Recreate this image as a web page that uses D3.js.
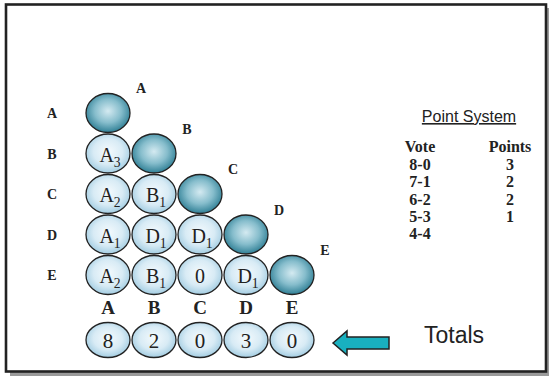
<!DOCTYPE html>
<html><head><meta charset="utf-8">
<script src="https://cdn.jsdelivr.net/npm/d3@7"></script>
<style>html,body{margin:0;padding:0;background:#fff;}svg{display:block;}</style>
</head><body>
<script>
const candidates = ["A","B","C","D","E"];
// lower-triangle pairwise results: row candidate vs column candidate (winner + points)
const rowB = ["A3"];
const rowC = ["A2","B1"];
const rowD = ["A1","D1","D1"];
const rowE = ["A2","B1","0","D1"];
const totals = [8,2,0,3,0];
const votes = ["8-0","7-1","6-2","5-3","4-4"];
const points = ["3","2","2","1",""];

const W = 549, H = 376;
const svg = d3.select("body").append("svg").attr("width", W).attr("height", H);
const defs = svg.append("defs");
const gl = defs.append("radialGradient").attr("id","light").attr("cx","50%").attr("cy","45%").attr("r","55%");
gl.append("stop").attr("offset","0%").attr("stop-color","#f4fafd");
gl.append("stop").attr("offset","60%").attr("stop-color","#d8ebf5");
gl.append("stop").attr("offset","100%").attr("stop-color","#a3cde2");
const gd = defs.append("radialGradient").attr("id","dark").attr("cx","50%").attr("cy","45%").attr("r","55%");
gd.append("stop").attr("offset","0%").attr("stop-color","#d4eaf1");
gd.append("stop").attr("offset","55%").attr("stop-color","#86bdcc");
gd.append("stop").attr("offset","100%").attr("stop-color","#2f7f95");

// frame with shadow
svg.append("rect").attr("x",10).attr("y",8).attr("width",539).attr("height",368).attr("fill","#9a9a9a");
svg.append("rect").attr("x",6).attr("y",4.5).attr("width",540).attr("height",367).attr("fill","#fff")
  .attr("stroke","#222").attr("stroke-width",2.6);

const x = d3.scalePoint().domain(candidates).range([108, 292]);
const y = d3.scalePoint().domain(candidates).range([113, 275]);
const rx = 22, ry = 19.5;

const rows = [[], rowB, rowC, rowD, rowE];
const cells = [];
rows.forEach((r, i) => r.forEach((v, j) => cells.push({row: candidates[i], col: candidates[j], v})));

const serif = "Liberation Serif, Times New Roman, serif";
const sans = "Liberation Sans, Arial, sans-serif";

function addLabel(g, v, size) {
  const t = g.append("text").attr("text-anchor","middle").attr("font-family",serif)
    .attr("font-size",size).attr("fill","#222");
  const main = v.replace(/\d+$/, "") || v;
  const sub = /^[A-Z]\d+$/.test(v) ? v.slice(1) : "";
  t.append("tspan").text(main);
  if (sub) t.append("tspan").attr("font-size", size*0.68).attr("dy", 5).text(sub);
  return t;
}

// light cells
const cg = svg.append("g");
cells.forEach(c => {
  const g = cg.append("g").attr("transform",`translate(${x(c.col)},${y(c.row)})`);
  g.append("ellipse").attr("rx",rx).attr("ry",ry).attr("fill","url(#light)").attr("stroke","#222").attr("stroke-width",1.3);
  addLabel(g, c.v, 20).attr("x", c.v.length > 1 ? 2 : 0).attr("y", 8);
});
// diagonal dark circles + labels
candidates.forEach(c => {
  svg.append("ellipse").attr("cx",x(c)).attr("cy",y(c)).attr("rx",rx).attr("ry",ry)
    .attr("fill","url(#dark)").attr("stroke","#222").attr("stroke-width",1.3);
  svg.append("text").attr("x",x(c)+33).attr("y",y(c)-20).attr("text-anchor","middle")
    .attr("font-family",serif).attr("font-weight","bold").attr("font-size",14).attr("fill","#222").text(c);
  svg.append("text").attr("x",52).attr("y",y(c)+5).attr("text-anchor","middle")
    .attr("font-family",serif).attr("font-weight","bold").attr("font-size",14).attr("fill","#222").text(c);
  svg.append("text").attr("x",x(c)).attr("y",314).attr("text-anchor","middle")
    .attr("font-family",serif).attr("font-weight","bold").attr("font-size",19).attr("fill","#222").text(c);
});
// totals
totals.forEach((t, i) => {
  const g = svg.append("g").attr("transform",`translate(${x(candidates[i])},340)`);
  g.append("ellipse").attr("rx",rx).attr("ry",17.5).attr("fill","url(#light)").attr("stroke","#222").attr("stroke-width",1.3);
  g.append("text").attr("text-anchor","middle").attr("y",7.5).attr("font-family",serif).attr("font-size",21).attr("fill","#222").text(t);
});
// arrow
svg.append("path").attr("d","M333,343 L347,331 L347,337 L389,337 L389,349 L347,349 L347,355 Z")
  .attr("fill","#19b0bf").attr("stroke","#222").attr("stroke-width",1.5).attr("stroke-linejoin","miter");
svg.append("text").attr("x",454).attr("y",343).attr("text-anchor","middle").attr("font-family",sans)
  .attr("font-size",23).attr("fill","#222").text("Totals");

// point system
svg.append("text").attr("x",469).attr("y",122).attr("text-anchor","middle").attr("font-family",sans)
  .attr("font-size",16).attr("fill","#222").attr("text-decoration","underline").text("Point System");
const vx = 420, px = 510;
const tfs = 16;
svg.append("text").attr("x",vx).attr("y",152).attr("text-anchor","middle").attr("font-family",serif)
  .attr("font-weight","bold").attr("font-size",tfs).attr("fill","#222").text("Vote");
svg.append("text").attr("x",px).attr("y",152).attr("text-anchor","middle").attr("font-family",serif)
  .attr("font-weight","bold").attr("font-size",tfs).attr("fill","#222").text("Points");
const ty = d3.scalePoint().domain(votes).range([170, 239]);
votes.forEach((v, i) => {
  svg.append("text").attr("x",vx).attr("y",ty(v)).attr("text-anchor","middle").attr("font-family",serif)
    .attr("font-weight","bold").attr("font-size",tfs).attr("fill","#222").text(v);
  svg.append("text").attr("x",px).attr("y",ty(v)).attr("text-anchor","middle").attr("font-family",serif)
    .attr("font-weight","bold").attr("font-size",tfs).attr("fill","#222").text(points[i]);
});
</script>
</body></html>
